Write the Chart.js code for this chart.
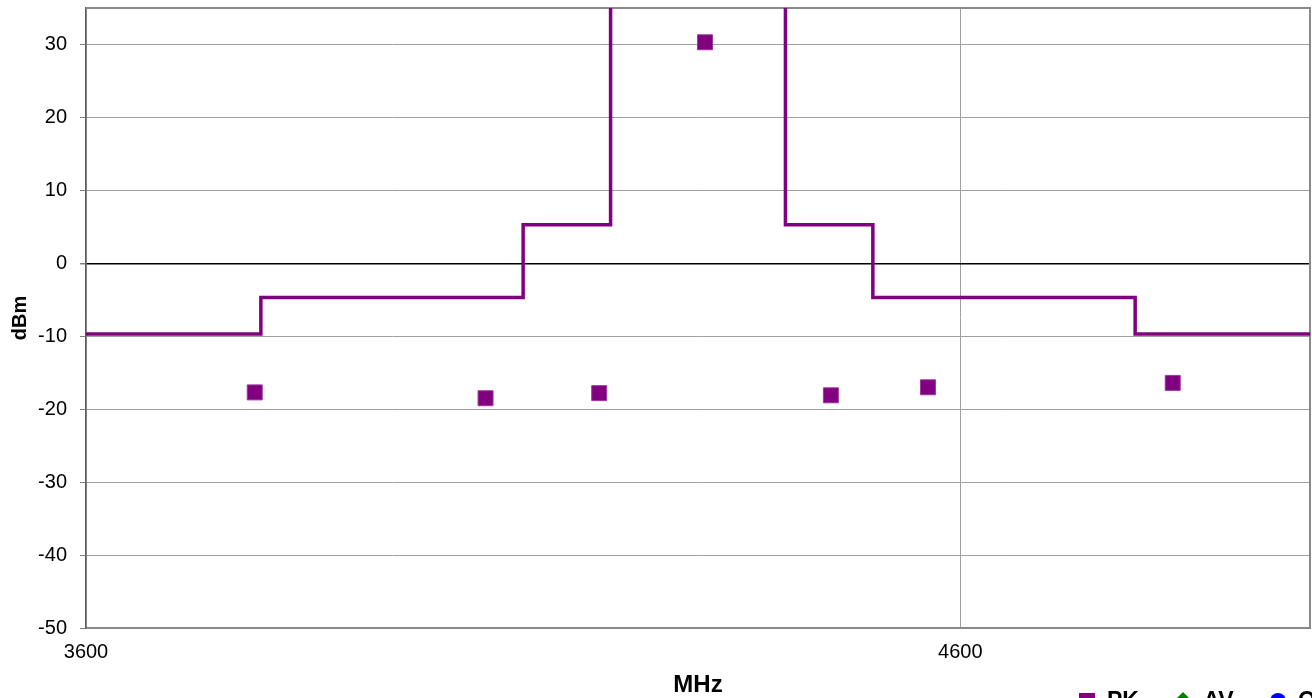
<!DOCTYPE html>
<html>
<head>
<meta charset="utf-8">
<script src="https://cdn.jsdelivr.net/npm/chart.js@4"></script>
<style>
  body { margin: 0; background: #fff; overflow: hidden; }
  #wrap { position: relative; width: 1312px; height: 698px; overflow: hidden; }
  #myChart { position: absolute; left: 0; top: 0; }
  #legend { position: absolute; left: 1079px; top: 687px; white-space: nowrap;
    font: bold 23px "Liberation Sans", Arial, sans-serif; color: #000; }
  #legend span.item { display: inline-block; margin-right: 30px; }
  #legend i { display: inline-block; width: 16px; height: 16px; margin-right: 12px; vertical-align: -1px; }
  .sq { background: #800080; }
  .dm { background: #008000; transform: rotate(45deg) scale(0.8); }
  .ci { background: #0000ff; border-radius: 50%; }
</style>
</head>
<body>
<div id="wrap">
  <canvas id="myChart" width="1312" height="740"></canvas>
  <div id="legend">
    <span class="item"><i class="sq"></i>PK</span>
    <span class="item"><i class="dm"></i>AV</span>
    <span class="item"><i class="ci"></i>QP</span>
  </div>
</div>
<script>
// measured points (MHz, dBm)
const pkFreq = [3793, 4057, 4187, 4308, 4452, 4563, 4843];
const pkLevel = [-17.7, -18.5, -17.8, 30.3, -18.1, -17.0, -16.4];
const avFreq = [];
const avLevel = [];
const qpFreq = [];
const qpLevel = [];

// limit mask (stepped)
const limitFreq = [3600, 3800, 4100, 4200, 4400, 4500, 4800, 5000];
const limitLevel = [-9.7, -4.7, 5.3, 80, 5.3, -4.7, -9.7, -9.7];

const xTicks = [3600, 4600];
const yTicks = [-50, -40, -30, -20, -10, 0, 10, 20, 30];

function pts(xs, ys) {
  return xs.map((x, i) => ({ x: x, y: ys[i] }));
}

const purple = "#800080";
const font = { family: "'Liberation Sans', Arial, sans-serif", size: 20 };

// grey frame round the plot area
const frame = {
  id: "frame",
  beforeDatasetsDraw(chart) {
    const a = chart.chartArea;
    const c = chart.ctx;
    c.save();
    c.strokeStyle = "#8a8a8a";
    c.lineWidth = 2;
    c.beginPath();
    c.moveTo(a.left, a.top);
    c.lineTo(a.right, a.top);
    c.lineTo(a.right, a.bottom);
    c.stroke();
    c.restore();
  },
};

const ctx = document.getElementById("myChart").getContext("2d");
const chart = new Chart(ctx, {
  type: "scatter",
  data: {
    datasets: [
      {
        label: "PK",
        data: pts(pkFreq, pkLevel),
        pointStyle: "rect",
        pointRadius: 10.6,
        backgroundColor: purple,
        borderColor: "#9a3a9a",
        borderWidth: 1,
      },
      {
        label: "AV",
        data: pts(avFreq, avLevel),
        pointStyle: "rectRot",
        pointRadius: 9,
        backgroundColor: "#008000",
      },
      {
        label: "QP",
        data: pts(qpFreq, qpLevel),
        pointStyle: "circle",
        pointRadius: 8,
        backgroundColor: "#0000ff",
      },
      {
        label: "Limit",
        type: "line",
        data: pts(limitFreq, limitLevel),
        stepped: "before",
        borderColor: purple,
        borderWidth: 3.5,
        pointRadius: 0,
        fill: false,
      },
    ],
  },
  options: {
    responsive: false,
    animation: false,
    layout: { autoPadding: false, padding: { top: 8, right: 2, left: 0, bottom: 0 } },
    plugins: { legend: { display: false }, tooltip: { enabled: false } },
    scales: {
      x: {
        type: "linear",
        min: 3600,
        max: 5000,
        afterBuildTicks: (scale) => {
          scale.ticks = xTicks.map((v) => ({ value: v }));
        },
        afterFit: (scale) => {
          scale.height = 112;
          scale.paddingLeft = 0;
          scale.paddingRight = 0;
        },
        ticks: {
          font: font,
          color: "#000",
          padding: 12,
          maxRotation: 0,
          callback: (v) => String(v),
        },
        grid: { color: "#a0a0a0", lineWidth: 1, drawTicks: false },
        border: { color: "#8a8a8a", width: 2 },
        title: {
          display: true,
          text: "MHz",
          color: "#000",
          font: { family: font.family, size: 24, weight: "bold" },
          padding: { top: 0, bottom: 40 },
        },
      },
      y: {
        min: -50,
        max: 35,
        afterBuildTicks: (scale) => {
          scale.ticks = yTicks.map((v) => ({ value: v }));
        },
        afterFit: (scale) => {
          scale.width = 86;
          scale.paddingTop = 0;
          scale.paddingBottom = 0;
        },
        ticks: {
          font: font,
          color: "#000",
          padding: 13,
          callback: (v) => String(v),
        },
        grid: {
          color: (c) => (c.tick && c.tick.value === 0 ? "#000" : "#a0a0a0"),
          lineWidth: (c) => (c.tick && c.tick.value === 0 ? 1.5 : 1),
          tickLength: 6,
          tickColor: "#808080",
        },
        border: { color: "#606060", width: 1.5 },
        title: {
          display: true,
          text: "dBm",
          color: "#000",
          font: { family: font.family, size: 20, weight: "bold" },
          padding: { top: 8, bottom: 0 },
        },
      },
    },
  },
  plugins: [frame],
});
</script>
</body>
</html>
